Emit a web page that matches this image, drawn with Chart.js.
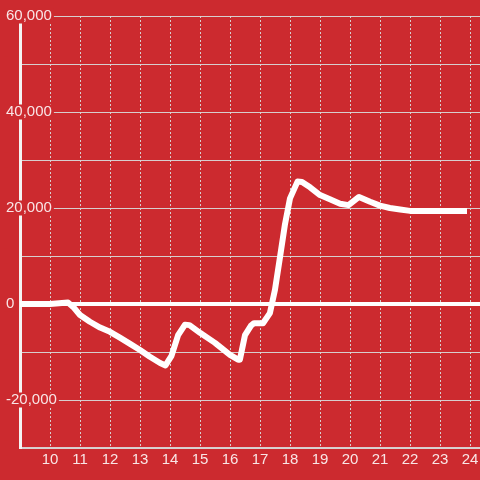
<!DOCTYPE html>
<html>
<head>
<meta charset="utf-8">
<script src="https://cdn.jsdelivr.net/npm/chart.js@4/dist/chart.umd.min.js"></script>
<style>
  html, body { margin: 0; padding: 0; background: #cc2a2f; }
  #wrap { width: 480px; height: 480px; position: relative; }
</style>
</head>
<body>
<div id="wrap"><canvas id="chart"></canvas></div>
<script>
  // hour of day on x, value on y
  const hours = [
    9.0, 10.0, 10.4, 10.6, 10.8, 11.0, 11.33, 11.67, 12.0, 12.33, 12.67, 13.0,
    13.33, 13.67, 13.85, 14.05, 14.27, 14.5, 14.65, 15.0, 15.5, 16.0, 16.27,
    16.33, 16.5, 16.7, 16.8, 17.1, 17.33, 17.5, 17.67, 17.83, 18.0, 18.25,
    18.4, 18.67, 19.0, 19.33, 19.67, 19.95, 20.3, 20.67, 21.0, 21.33, 21.67,
    22.0, 23.9
  ];
  const values = [
    0, 0, 200, 300, -800, -2300, -3700, -4900, -5800, -7000, -8300, -9600,
    -11000, -12300, -12800, -10800, -6500, -4300, -4400, -6000, -8100, -10600,
    -11600, -11600, -6500, -4500, -4000, -4000, -1900, 3000, 9900, 16500,
    22000, 25500, 25400, 24300, 22700, 21800, 20900, 20600, 22300, 21300,
    20500, 20000, 19700, 19400, 19400
  ];
  const xLabels = [10, 11, 12, 13, 14, 15, 16, 17, 18, 19, 20, 21, 22, 23, 24];
  const yLabels = [60000, 40000, 20000, 0, -20000];

  const red = "#cc2a2f";
  const textColor = "rgba(255,255,255,0.88)";
  const gridColor = "rgba(215,215,215,0.95)";

  /**
   * keep the layout fixed: no extra padding from edge labels
   * @param {Object} scale
   */
  const noPadding = (scale) => {
    scale.paddingLeft = 0;
    scale.paddingRight = 0;
    scale.paddingTop = 0;
    scale.paddingBottom = 0;
  };

  new Chart(document.getElementById("chart").getContext("2d"), {
    type: "line",
    data: {
      datasets: [
        {
          data: hours.map((h, i) => ({ x: h, y: values[i] })),
          borderColor: "#ffffff",
          borderWidth: 6,
          borderJoinStyle: "round",
          pointRadius: 0,
          tension: 0,
          fill: false,
        },
      ],
    },
    options: {
      responsive: true,
      maintainAspectRatio: false,
      animation: false,
      layout: { padding: { top: 16, left: 0, right: 0, bottom: 0 } },
      plugins: { legend: { display: false }, tooltip: { enabled: false } },
      scales: {
        x: {
          type: "linear",
          min: 9,
          max: 24 + 1 / 3,
          // one tick per labelled hour, nothing at the edges
          afterBuildTicks: (scale) => {
            scale.ticks = xLabels.map((v) => ({ value: v }));
          },
          afterFit: (scale) => {
            scale.height = 32;
            noPadding(scale);
          },
          ticks: {
            padding: 3,
            color: textColor,
            font: { family: "Liberation Sans", size: 15 },
            maxRotation: 0,
            autoSkip: false,
            callback: (v) => String(v),
          },
          grid: {
            drawTicks: false,
            lineWidth: 1,
            color: gridColor,
          },
          border: { color: gridColor, width: 1.5, dash: [2, 2] },
        },
        y: {
          type: "linear",
          min: -30000,
          max: 60000,
          afterFit: (scale) => {
            scale.width = 20;
            noPadding(scale);
          },
          ticks: {
            stepSize: 10000,
            mirror: true,
            padding: -14,
            color: textColor,
            font: { family: "Liberation Sans", size: 15, lineHeight: 1 },
            showLabelBackdrop: true,
            backdropColor: red,
            backdropPadding: { top: 0, bottom: 0, left: 2, right: 2 },
            callback: (v) =>
              yLabels.includes(v) ? v.toLocaleString("en-US") : "",
          },
          grid: {
            drawTicks: false,
            color: (ctx) =>
              ctx.tick && ctx.tick.value === 0 ? "#ffffff" : gridColor,
            lineWidth: (ctx) => (ctx.tick && ctx.tick.value === 0 ? 4 : 1),
          },
          border: { color: "#f4f4f4", width: 3 },
        },
      },
    },
  });
</script>
</body>
</html>
